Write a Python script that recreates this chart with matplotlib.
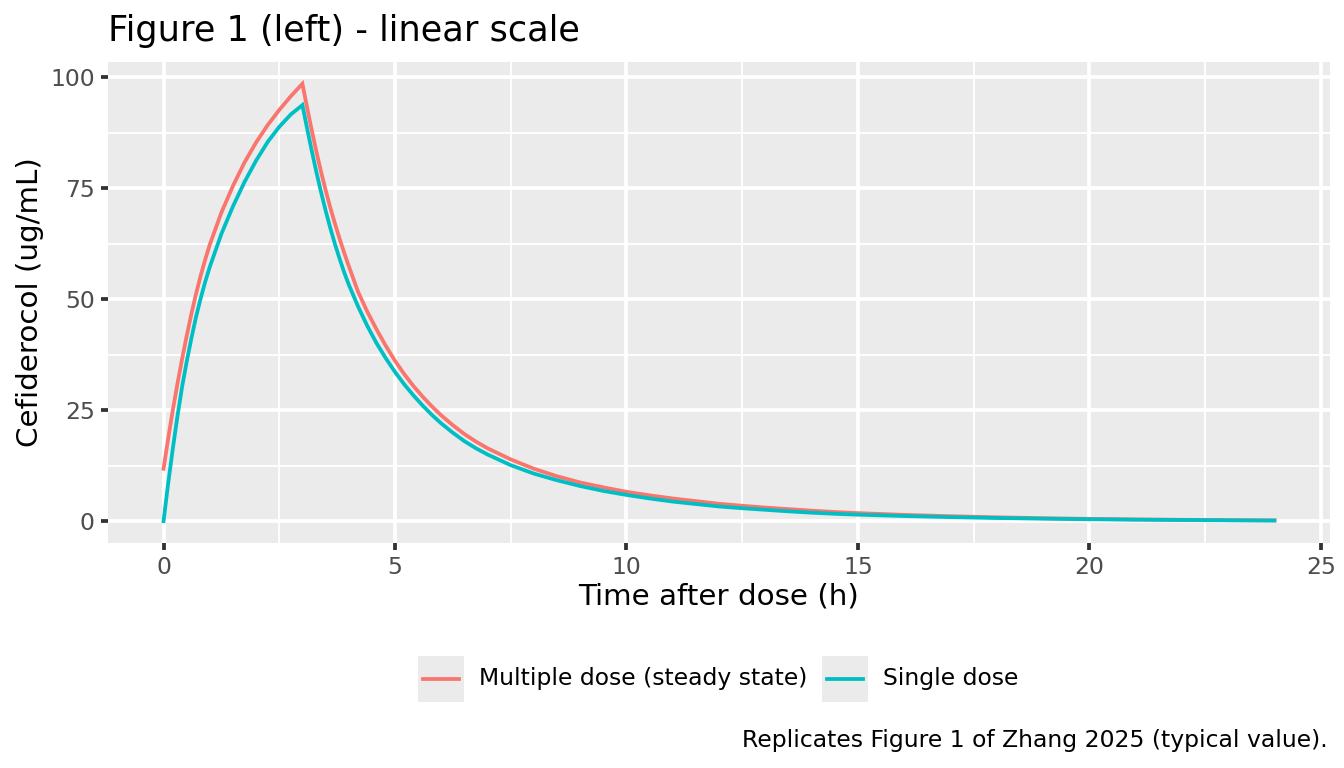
import matplotlib
matplotlib.use("Agg")
import matplotlib.pyplot as plt
from matplotlib.lines import Line2D
from matplotlib.patches import Rectangle
from matplotlib.ticker import MultipleLocator, FixedLocator

# Concentration profiles (h, ug/mL)
time_h = [0, 0.1, 0.2, 0.3, 0.4, 0.5, 0.6, 0.7, 0.8, 0.9, 1.0,
          1.25, 1.5, 1.75, 2.0, 2.25, 2.5, 2.75, 3.0,
          3.1, 3.2, 3.3, 3.4, 3.5, 3.6, 3.7, 3.8, 3.9, 4.0,
          4.2, 4.4, 4.6, 4.8, 5.0, 5.2, 5.4, 5.6, 5.8, 6.0,
          6.25, 6.5, 6.75, 7.0,
          7.5, 8.0, 8.5, 9.0, 9.5, 10, 10.5, 11, 11.5, 12, 12.5, 13, 13.5, 14, 14.5, 15,
          16, 17, 18, 19, 20, 21, 22, 23, 24]

conc_multi = [11.8, 18.6, 25.0, 30.9, 36.5, 41.7, 46.6, 51.1, 55.2, 58.9, 62.3,
              69.5, 75.5, 80.8, 85.3, 89.2, 92.6, 95.7, 98.5,
              93.2, 88.1, 83.3, 78.8, 74.6, 70.7, 67.1, 63.7, 60.5, 57.5,
              51.7, 47.2, 43.2, 39.5, 36.1, 33.1, 30.4, 28.0, 25.8, 23.8,
              21.6, 19.6, 17.9, 16.4,
              13.9, 11.8, 10.1, 8.7, 7.6, 6.6, 5.8, 5.1, 4.5, 3.9, 3.45, 3.05, 2.7, 2.35, 2.05, 1.8,
              1.4, 1.1, 0.85, 0.65, 0.5, 0.38, 0.3, 0.22, 0.17]

conc_single = [0.0, 8.5, 16.3, 23.6, 30.2, 35.9, 41.1, 45.9, 50.1, 53.9, 57.3,
               64.7, 70.9, 76.4, 81.2, 85.4, 88.8, 91.6, 93.7,
               88.5, 83.5, 78.7, 74.2, 70.0, 66.1, 62.5, 59.2, 56.1, 53.3,
               48.4, 44.0, 40.1, 36.7, 33.6, 30.8, 28.3, 26.0, 23.9, 22.0,
               19.9, 18.0, 16.4, 15.0,
               12.6, 10.7, 9.2, 7.9, 6.8, 5.9, 5.1, 4.4, 3.85, 3.3, 2.9, 2.55, 2.2, 1.9, 1.65, 1.45,
               1.15, 0.9, 0.7, 0.55, 0.42, 0.32, 0.25, 0.18, 0.12]

series = [("Multiple dose (steady state)", conc_multi, "#F8766D"),
          ("Single dose", conc_single, "#00BFC4")]

W, H = 1344, 768
fig = plt.figure(figsize=(7, 4), dpi=192)


def fx(px):
    return px / W


def fy(py):
    return 1 - py / H


ax = fig.add_axes([fx(108), fy(543), fx(1330) - fx(108), fy(62) - fy(543)])
ax.set_facecolor("#EBEBEB")
for s in ax.spines.values():
    s.set_visible(False)

for name, c, col in series:
    ax.plot(time_h, c, color=col, lw=1.42, solid_joinstyle="miter", zorder=3)

ax.set_xlim(-1.2, 25.2)
ax.set_ylim(-4.93, 103.4)
ax.xaxis.set_major_locator(MultipleLocator(5))
ax.yaxis.set_major_locator(MultipleLocator(25))
ax.xaxis.set_minor_locator(FixedLocator([2.5, 7.5, 12.5, 17.5, 22.5]))
ax.yaxis.set_minor_locator(FixedLocator([12.5, 37.5, 62.5, 87.5]))
ax.grid(which="major", color="white", lw=1.42)
ax.grid(which="minor", color="white", lw=0.71)
ax.set_axisbelow(True)
ax.tick_params(which="major", length=2.75, width=1.42, color="#333333",
               labelcolor="#4D4D4D", labelsize=8.8, pad=2.2)
ax.tick_params(which="minor", length=0)

fig.text(fx(108), fy(31), "Figure 1 (left) - linear scale", fontsize=13.2, ha="left", va="center")
fig.text(fx(30), fy(302), "Cefiderocol (ug/mL)", fontsize=11, rotation=90, ha="center", va="center")
fig.text(fx(719), fy(597), "Time after dose (h)", fontsize=11, ha="center", va="center")
fig.text(fx(1328), fy(740), "Replicates Figure 1 of Zhang 2025 (typical value).", fontsize=8.8,
         ha="right", va="center")

# legend drawn by hand to get the grey ggplot key boxes
key_left = [418, 822]
for (name, c, col), kx in zip(series, key_left):
    fig.add_artist(Rectangle((fx(kx), fy(702)), fx(46), fy(656) - fy(702), transform=fig.transFigure,
                             facecolor="#EBEBEB", edgecolor="none"))
    fig.add_artist(Line2D([fx(kx + 5), fx(kx + 41)], [fy(679), fy(679)], transform=fig.transFigure,
                          color=col, lw=1.42))
    fig.text(fx(kx + 61), fy(679), name, fontsize=8.8, ha="left", va="center")

fig.savefig("out.png", dpi=192)
